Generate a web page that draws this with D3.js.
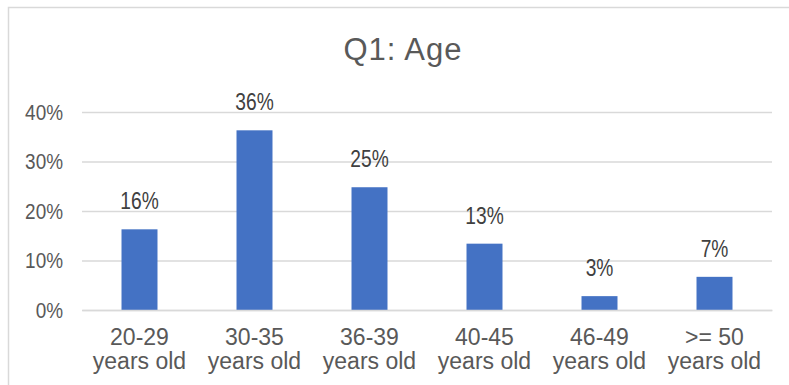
<!DOCTYPE html>
<html>
<head>
<meta charset="utf-8">
<script src="https://cdn.jsdelivr.net/npm/d3@7"></script>
<style>
  html, body { margin: 0; padding: 0; background: #fff; }
  svg { display: block; }
</style>
</head>
<body>
<svg id="chart" width="789" height="385"></svg>
<script>
// Survey question 1: share of respondents by age group
const title = "Q1: Age";
const categories = [
  ["20-29", "years old"],
  ["30-35", "years old"],
  ["36-39", "years old"],
  ["40-45", "years old"],
  ["46-49", "years old"],
  [">= 50", "years old"]
];
const shares = [0.163, 0.363, 0.248, 0.134, 0.028, 0.067];
const yTicks = [0, 0.1, 0.2, 0.3, 0.4];

const svg = d3.select("#chart");
const narrow = "'Liberation Sans Narrow', 'Liberation Sans', Arial, sans-serif";
const regular = "'Liberation Sans', Arial, sans-serif";

// squeeze percent labels horizontally to a condensed look
function condense(sel, factor) {
  sel.each(function () {
    const len = this.getComputedTextLength();
    d3.select(this)
      .attr("textLength", len * factor)
      .attr("lengthAdjust", "spacingAndGlyphs");
  });
}

// chart frame (open on the right and bottom)
svg.append("rect")
  .attr("x", 8.5).attr("y", 7.5)
  .attr("width", 820).attr("height", 420)
  .attr("fill", "#fff")
  .attr("stroke", "#d9d9d9")
  .attr("stroke-width", 1.5);

const plot = { left: 82, right: 772, top: 112, bottom: 310 };

const x = d3.scaleBand()
  .domain(d3.range(categories.length))
  .range([plot.left, plot.right])
  .paddingInner(0.687)
  .paddingOuter(0.3435);

const y = d3.scaleLinear()
  .domain([0, 0.4])
  .range([plot.bottom, plot.top]);

// title
svg.append("text")
  .attr("x", 403).attr("y", 60)
  .attr("text-anchor", "middle")
  .attr("font-family", regular)
  .attr("font-size", 31)
  .attr("letter-spacing", 1)
  .attr("fill", "#595959")
  .text(title);

// gridlines + y tick labels
const yAxis = d3.axisLeft(y)
  .tickValues(yTicks)
  .tickFormat(d3.format(".0%"))
  .tickSize(-(plot.right - plot.left))
  .tickPadding(19);

const gy = svg.append("g")
  .attr("transform", `translate(${plot.left},0)`)
  .call(yAxis);
gy.select(".domain").remove();
gy.selectAll(".tick line")
  .attr("stroke", "#d9d9d9")
  .attr("stroke-width", 1.5);
gy.selectAll(".tick text")
  .attr("font-family", narrow)
  .attr("font-size", 22)
  .attr("fill", "#595959")
  .call(condense, 0.86);

// bars
svg.append("g").selectAll("rect")
  .data(shares)
  .join("rect")
  .attr("x", (d, i) => x(i))
  .attr("y", d => y(d))
  .attr("width", x.bandwidth())
  .attr("height", d => y(0) - y(d))
  .attr("fill", "#4472c4");

// value labels
svg.append("g").selectAll("text")
  .data(shares)
  .join("text")
  .attr("x", (d, i) => x(i) + x.bandwidth() / 2)
  .attr("y", d => y(d) - 20)
  .attr("text-anchor", "middle")
  .attr("font-family", narrow)
  .attr("font-size", 24)
  .attr("fill", "#404040")
  .text(d => d3.format(".0%")(d))
  .call(condense, 0.8);

// category axis
const xAxis = d3.axisBottom(x).tickSize(0).tickFormat("");
const gx = svg.append("g")
  .attr("transform", `translate(0,${plot.bottom})`)
  .call(xAxis);
gx.select(".domain")
  .attr("stroke", "#d9d9d9")
  .attr("stroke-width", 1.5);

const catLabels = svg.append("g").selectAll("text")
  .data(categories)
  .join("text")
  .attr("text-anchor", "middle")
  .attr("font-family", regular)
  .attr("font-size", 23)
  .attr("fill", "#595959");
catLabels.each(function (lines, i) {
  const t = d3.select(this);
  const cx = x(i) + x.bandwidth() / 2;
  lines.forEach((line, k) => {
    t.append("tspan")
      .attr("x", cx)
      .attr("y", 345 + k * 24)
      .text(line);
  });
});
</script>
</body>
</html>
